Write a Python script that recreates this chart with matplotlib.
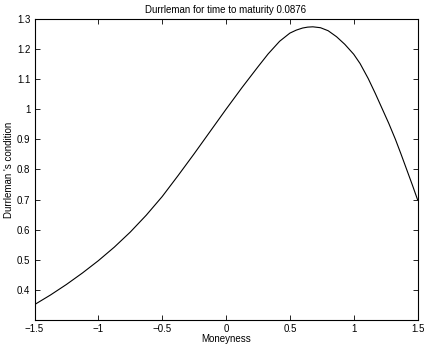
import numpy as np
import matplotlib.pyplot as plt

# values
moneyness = [-1.5, -1.375, -1.25, -1.125, -1.0, -0.875, -0.75, -0.625, -0.5,
             -0.375, -0.25, -0.125, 0.0, 0.125, 0.25, 0.33, 0.42, 0.5, 0.55,
             0.6, 0.64, 0.68, 0.74, 0.8, 0.866, 0.93, 1.0, 1.05, 1.114, 1.17,
             1.222, 1.275, 1.327, 1.37, 1.415, 1.46, 1.5]
durrleman = [0.351, 0.383, 0.418, 0.456, 0.497, 0.542, 0.592, 0.648, 0.710,
             0.780, 0.852, 0.926, 1.000, 1.072, 1.141, 1.184, 1.226, 1.253, 1.263,
             1.270, 1.273, 1.274, 1.271, 1.261, 1.241, 1.216, 1.183, 1.152, 1.102,
             1.052, 1.003, 0.953, 0.900, 0.852, 0.800, 0.748, 0.700]

xticks = [-1.5, -1, -0.5, 0, 0.5, 1, 1.5]
xticklabels = ['\u22121.5', '\u22121', '\u22120.5', '0', '0.5', '1', '1.5']
yticks = [0.4, 0.5, 0.6, 0.7, 0.8, 0.9, 1.0, 1.1, 1.2, 1.3]
yticklabels = ['0.4', '0.5', '0.6', '0.7', '0.8', '0.9', '1', '1.1', '1.2', '1.3']

plt.rcParams['font.family'] = ['Liberation Sans', 'DejaVu Sans']
plt.rcParams['font.size'] = 7

fig = plt.figure(figsize=(4.27, 3.44), dpi=100)
ax = fig.add_axes([0.0808, 0.0698, 0.897, 0.875])

ax.plot(moneyness, durrleman, color='black', linewidth=0.8)

ax.set_xlim(-1.5, 1.5)
ax.set_ylim(0.3, 1.3)
ax.set_xticks(xticks)
ax.set_xticklabels(xticklabels)
ax.set_yticks(yticks)
ax.set_yticklabels(yticklabels)
ax.tick_params(direction='in', length=3.5, width=0.6, top=True, right=True, pad=3)
for s in ax.spines.values():
    s.set_linewidth(0.8)

ax.set_title('Durrleman for time to maturity 0.0876', fontsize=7, pad=4)
ax.set_xlabel('Moneyness', labelpad=0)
ax.set_ylabel("Durrleman 's condition", labelpad=2)

fig.savefig('out.png', dpi=100)
